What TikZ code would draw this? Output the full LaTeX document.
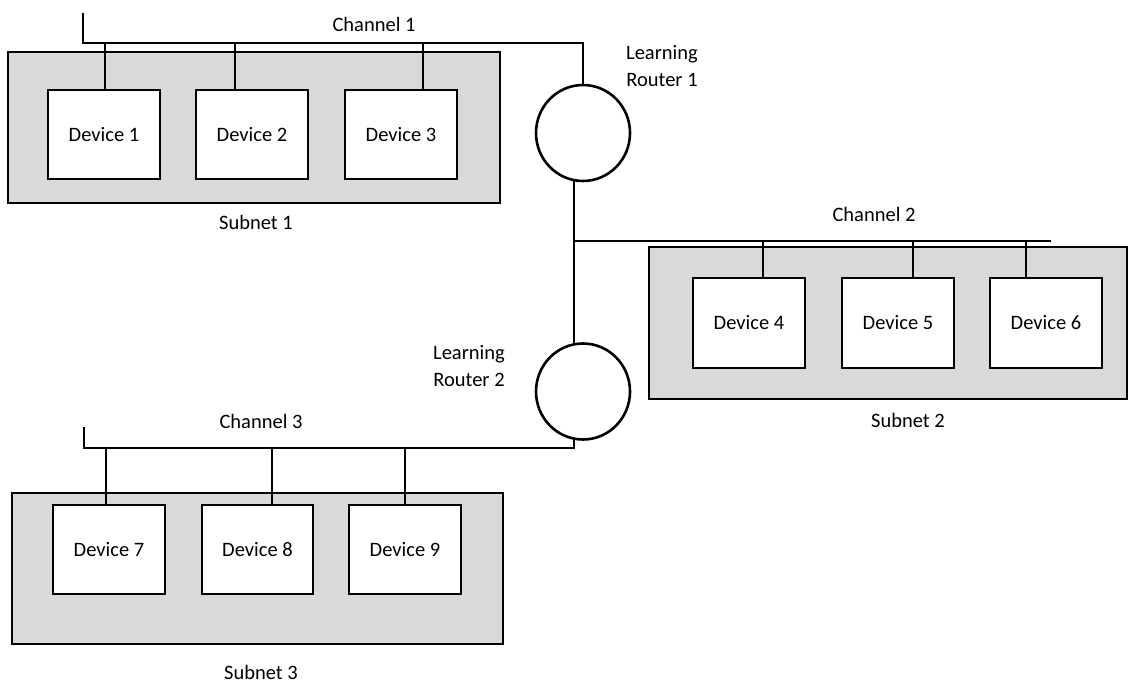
\documentclass[tikz,border=0pt]{standalone}
\usepackage{fontspec}
\setmainfont{Carlito}
\usetikzlibrary{shapes.geometric}
\begin{document}
\begin{tikzpicture}[x=1pt,y=-1pt,
  wire/.style={line width=2.6pt, line cap=rect},
  subnetbox/.style={draw, line width=2.6pt, fill=subgray, inner sep=0pt},
  devbox/.style={draw, line width=2.6pt, fill=white, inner sep=0pt, font=\fontsize{20.5}{24}\selectfont},
  router/.style={draw, ellipse, line width=2.6pt, minimum width=94pt, minimum height=96pt, inner sep=0pt},
  lbl/.style={font=\fontsize{20.5}{27}\selectfont, align=center, inner sep=0pt}]
\definecolor{subgray}{HTML}{D9D9D9}
\useasboundingbox (0,0) rectangle (1131,684);
% subnets
\node[subnetbox, minimum width=492pt, minimum height=151pt] (s1) at (254,127.5) {};
\node[subnetbox, minimum width=478pt, minimum height=152pt] (s2) at (888,323) {};
\node[subnetbox, minimum width=491pt, minimum height=151pt] (s3) at (257.5,568.5) {};
% devices
\node[devbox, minimum width=112pt, minimum height=89pt] (d1) at (104,134.5) {Device 1};
\node[devbox, minimum width=112pt, minimum height=89pt] (d2) at (252,134.5) {Device 2};
\node[devbox, minimum width=112pt, minimum height=89pt] (d3) at (401,134.5) {Device 3};
\node[devbox, minimum width=112pt, minimum height=90pt] (d4) at (749,323) {Device 4};
\node[devbox, minimum width=112pt, minimum height=90pt] (d5) at (898,323) {Device 5};
\node[devbox, minimum width=112pt, minimum height=90pt] (d6) at (1046,323) {Device 6};
\node[devbox, minimum width=112pt, minimum height=89pt] (d7) at (109,549.5) {Device 7};
\node[devbox, minimum width=111pt, minimum height=89pt] (d8) at (257.5,549.5) {Device 8};
\node[devbox, minimum width=112pt, minimum height=89pt] (d9) at (405,549.5) {Device 9};
% routers
\node[router] (r1) at (583,133) {};
\node[router] (r2) at (583,391.5) {};
% labels
\node[lbl] (lc1) at (374,24) {Channel 1};
\node[lbl] (lc2) at (874,214) {Channel 2};
\node[lbl] (lc3) at (261,421) {Channel 3};
\node[lbl] (ls1) at (256,222) {Subnet 1};
\node[lbl] (ls2) at (908,420) {Subnet 2};
\node[lbl] (ls3) at (261,672) {Subnet 3};
\node[lbl] (lr1) at (662,66) {Learning\\Router 1};
\node[lbl] (lr2) at (469,366) {Learning\\Router 2};
% bus coordinates
\coordinate (c1s) at (83,14);
\coordinate (c1c) at (583,43);
\coordinate (c2a) at (574,241);
\coordinate (c2e) at (1050,241);
\coordinate (c3s) at (84,428);
\coordinate (c3c) at (574,448);
% channel 1
\draw[wire] (c1s) |- (c1c) -- (r1.north);
\draw[wire] (d1.north -| 105,0) -- (105,43);
\draw[wire] (d2.north -| 235,0) -- (235,43);
\draw[wire] (d3.north -| 423,0) -- (423,43);
% router 1 to router 2, channel 2
\draw[wire] (r1.south -| c2a) -- (r2.north -| c2a);
\draw[wire] (c2a) -- (c2e);
\draw[wire] (d4.north -| 763,0) -- (763,241);
\draw[wire] (d5.north -| 913,0) -- (913,241);
\draw[wire] (d6.north -| 1026,0) -- (1026,241);
% channel 3
\draw[wire] (r2.south -| c3c) -- (c3c) -| (c3s);
\draw[wire] (d7.north -| 106,0) -- (106,448);
\draw[wire] (d8.north -| 272,0) -- (272,448);
\draw[wire] (d9.north -| 405,0) -- (405,448);
\end{tikzpicture}
\end{document}
